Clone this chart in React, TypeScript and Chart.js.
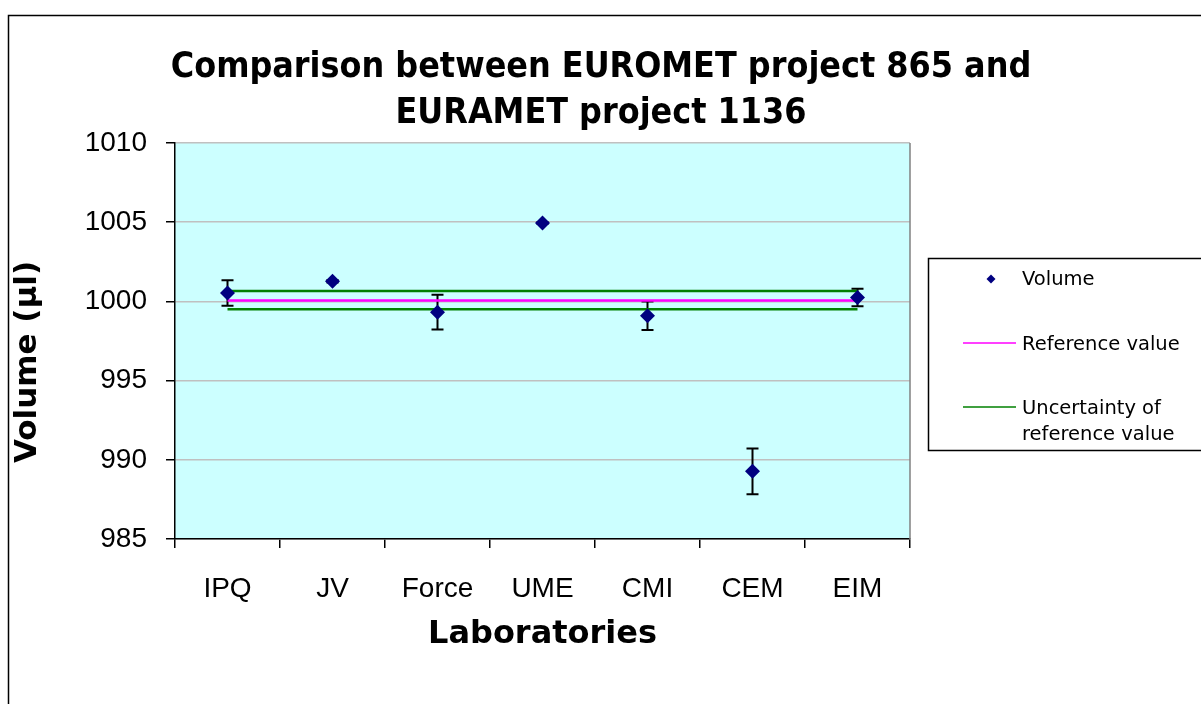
import React, { useEffect, useRef } from "react";
import { Chart, registerables } from "chart.js";

Chart.register(...registerables);

const laboratories = ["IPQ", "JV", "Force", "UME", "CMI", "CEM", "EIM"];
const volume = [1000.53, 1001.27, 999.32, 1004.95, 999.09, 989.27, 1000.25];
const volumeError = [0.8, 0.08, 1.1, 0.05, 0.9, 1.45, 0.55];
const referenceValue = [1000.05, 1000.05, 1000.05, 1000.05, 1000.05, 1000.05, 1000.05];
const upperUncertainty = [1000.65, 1000.65, 1000.65, 1000.65, 1000.65, 1000.65, 1000.65];
const lowerUncertainty = [999.5, 999.5, 999.5, 999.5, 999.5, 999.5, 999.5];
const yTicks = [985, 990, 995, 1000, 1005, 1010];
const titleLines = ["Comparison between EUROMET project 865 and", "EURAMET project 1136"];
const yAxisTitle = "Volume (µl)";
const xAxisTitle = "Laboratories";
const legendLabels = ["Volume", "Reference value", "Uncertainty of", "reference value"];

const NAVY = "#000080";
const MAGENTA = "#FF00FF";
const GREEN = "#008000";
const TITLE_FONT = "'DejaVu Sans Condensed', 'DejaVu Sans'";
const AXIS_TITLE_FONT = "'DejaVu Sans'";

const decorPlugin = {
  id: "decor",
  beforeDraw(chart: any) {
    const { ctx, chartArea } = chart;
    ctx.save();
    ctx.fillStyle = "#ffffff";
    ctx.fillRect(0, 0, chart.width, chart.height);
    ctx.fillStyle = "#CCFFFF";
    ctx.fillRect(chartArea.left, chartArea.top, chartArea.right - chartArea.left, chartArea.bottom - chartArea.top);
    ctx.strokeStyle = "#000";
    ctx.lineWidth = 1.5;
    ctx.strokeRect(8.5, 15.5, 1400, 1000);
    ctx.restore();
  },
  beforeDatasetsDraw(chart: any) {
    const { ctx, chartArea, scales } = chart;
    ctx.save();
    ctx.strokeStyle = "#808080";
    ctx.lineWidth = 1.5;
    ctx.beginPath();
    ctx.moveTo(chartArea.right, chartArea.top);
    ctx.lineTo(chartArea.right, chartArea.bottom);
    ctx.stroke();
    // error bars
    ctx.strokeStyle = "#000";
    ctx.lineWidth = 2;
    for (let i = 0; i < volume.length; i++) {
      const x = scales.x.getPixelForValue(i);
      const yTop = scales.y.getPixelForValue(volume[i] + volumeError[i]);
      const yBot = scales.y.getPixelForValue(volume[i] - volumeError[i]);
      ctx.beginPath();
      ctx.moveTo(x, yTop);
      ctx.lineTo(x, yBot);
      ctx.moveTo(x - 6, yTop);
      ctx.lineTo(x + 6, yTop);
      ctx.moveTo(x - 6, yBot);
      ctx.lineTo(x + 6, yBot);
      ctx.stroke();
    }
    ctx.restore();
  },
  afterDraw(chart: any) {
    const { ctx } = chart;
    ctx.save();
    // title
    ctx.fillStyle = "#000";
    ctx.textAlign = "center";
    ctx.textBaseline = "middle";
    ctx.font = `bold 35.5px ${TITLE_FONT}`;
    ctx.fillText(titleLines[0], 601, 68);
    ctx.fillText(titleLines[1], 601, 114);
    // y axis title
    ctx.save();
    ctx.translate(28, 362);
    ctx.rotate(-Math.PI / 2);
    ctx.font = `bold 31px ${AXIS_TITLE_FONT}`;
    ctx.fillText(yAxisTitle, 0, 0);
    ctx.restore();
    // legend
    ctx.strokeStyle = "#000";
    ctx.lineWidth = 1.5;
    ctx.strokeRect(928.5, 258.5, 400, 192);
    ctx.fillStyle = NAVY;
    ctx.beginPath();
    const dx = 991, dy = 279, r = 4.5;
    ctx.moveTo(dx, dy - r);
    ctx.lineTo(dx + r, dy);
    ctx.lineTo(dx, dy + r);
    ctx.lineTo(dx - r, dy);
    ctx.closePath();
    ctx.fill();
    ctx.lineWidth = 1.5;
    ctx.strokeStyle = MAGENTA;
    ctx.beginPath();
    ctx.moveTo(963, 343);
    ctx.lineTo(1016, 343);
    ctx.stroke();
    ctx.strokeStyle = GREEN;
    ctx.beginPath();
    ctx.moveTo(963, 407);
    ctx.lineTo(1016, 407);
    ctx.stroke();
    ctx.fillStyle = "#000";
    ctx.textAlign = "left";
    ctx.font = "19.5px 'DejaVu Sans'";
    ctx.fillText(legendLabels[0], 1022, 280);
    ctx.fillText(legendLabels[1], 1022, 345);
    ctx.fillText(legendLabels[2], 1022, 409);
    ctx.fillText(legendLabels[3], 1022, 435);
    ctx.restore();
  },
};

export default function App() {
  const canvasRef = useRef<HTMLCanvasElement | null>(null);

  useEffect(() => {
    if (!canvasRef.current) return;
    const chart = new Chart(canvasRef.current, {
      type: "line",
      data: {
        labels: laboratories,
        datasets: [
          {
            label: "Volume",
            data: volume,
            showLine: false,
            pointStyle: "rectRot",
            pointRadius: 7.5,
            pointBackgroundColor: NAVY,
            pointBorderColor: NAVY,
            pointBorderWidth: 0,
            order: 0,
          },
          {
            label: "Reference value",
            data: referenceValue,
            borderColor: MAGENTA,
            borderWidth: 2.5,
            pointRadius: 0,
            order: 1,
          },
          {
            label: "Uncertainty of reference value",
            data: upperUncertainty,
            borderColor: GREEN,
            borderWidth: 2.5,
            pointRadius: 0,
            order: 1,
          },
          {
            label: "Uncertainty of reference value (lower)",
            data: lowerUncertainty,
            borderColor: GREEN,
            borderWidth: 2.5,
            pointRadius: 0,
            order: 1,
          },
        ],
      },
      options: {
        animation: false,
        responsive: false,
        layout: { padding: { top: 143, left: 10, right: 291, bottom: 0 } },
        plugins: {
          legend: { display: false },
          title: { display: false },
          tooltip: { enabled: false },
        },
        scales: {
          x: {
            type: "category",
            offset: true,
            grid: {
              offset: true,
              drawOnChartArea: false,
              color: "#000",
              tickLength: 9,
              lineWidth: 1.5,
            },
            border: { color: "#000", width: 1.5 },
            ticks: {
              color: "#000",
              padding: 24,
              font: { family: "'Liberation Sans', Arial", size: 28 },
            },
            title: {
              display: true,
              text: xAxisTitle,
              color: "#000",
              font: { family: AXIS_TITLE_FONT, size: 32, weight: "bold" },
              padding: { top: 0, bottom: 50 },
            },
            afterFit(scale: any) {
              scale.height = 165;
            },
          },
          y: {
            min: 985,
            max: 1010,
            afterBuildTicks(scale: any) {
              scale.ticks = yTicks.map((v) => ({ value: v }));
            },
            grid: {
              color: "#C0C0C0",
              tickColor: "#000",
              tickLength: 9,
              lineWidth: 1.5,
            },
            border: { color: "#000", width: 1.5 },
            ticks: {
              color: "#000",
              padding: 19,
              font: { family: "'Liberation Sans', Arial", size: 28 },
              callback: (v: any) => String(v),
            },
            afterFit(scale: any) {
              scale.width = 165;
            },
          },
        },
      },
      plugins: [decorPlugin],
    });
    return () => chart.destroy();
  }, []);

  return (
    <div style={{ position: "fixed", left: 0, top: 0, width: 1201, height: 704, background: "#fff" }}>
      <canvas ref={canvasRef} width={1201} height={704} style={{ display: "block", width: 1201, height: 704 }} />
    </div>
  );
}
